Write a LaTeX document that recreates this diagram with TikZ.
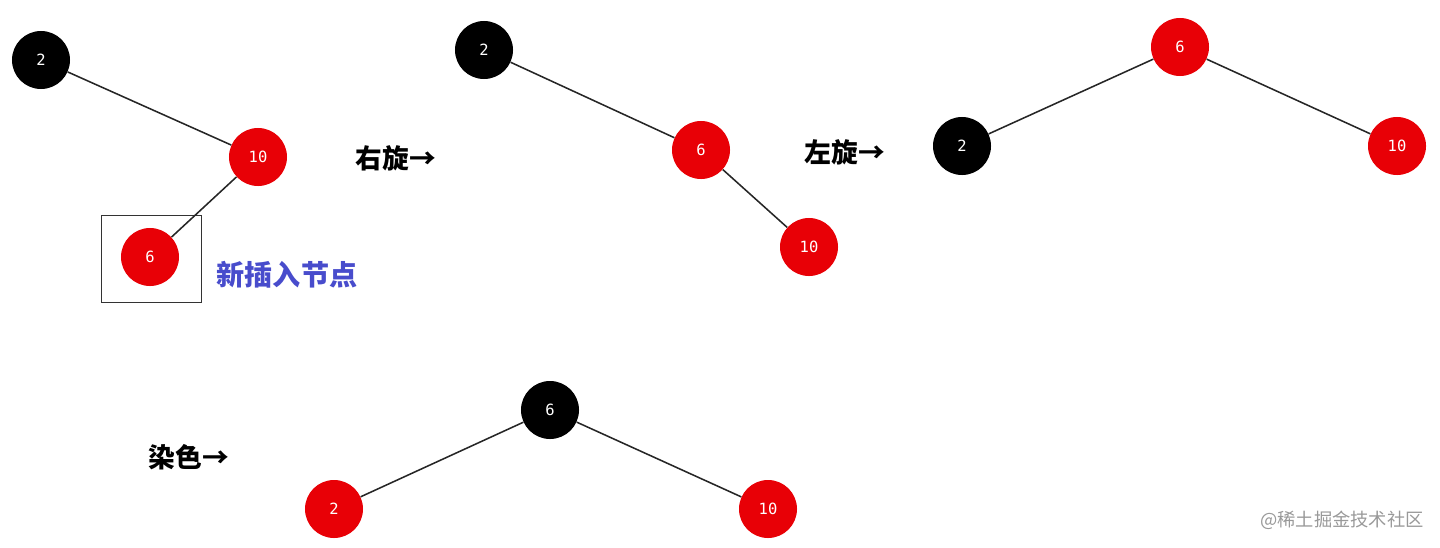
\documentclass[tikz,border=0pt]{standalone}
\usepackage{fontspec}
\usetikzlibrary{positioning}
\newfontfamily\cjk{Noto Sans CJK SC}
\newfontfamily\nummono{DejaVu Sans Mono}
\definecolor{nodered}{RGB}{232,0,6}
\definecolor{labelblue}{RGB}{72,76,204}

\begin{document}
\begin{tikzpicture}[x=0.025cm, y=-0.025cm,
    rb/.style={circle, fill=#1, text=white, minimum size=1.45cm, inner sep=0pt, font=\nummono\fontsize{11}{11}\selectfont},
    link/.style={draw=black!85, line width=1.1pt},
    opname/.style={font=\cjk\bfseries\fontsize{19}{19}\selectfont, text=black},
    newmark/.style={draw=black!80, line width=0.5pt, minimum width=2.5cm, minimum height=2.175cm, inner sep=0pt}]

    \useasboundingbox (0,0) rectangle (1440,547);

    % insert 6 under 10
    \node [rb=black] (a2) at (41,60) {2};
    \node [rb=nodered] (a10) at (258,157) {10};
    \node [rb=nodered] (a6) at (150,257) {6};
    \node [newmark] (newbox) at (151,258.5) {};
    \node [font=\cjk\bfseries\fontsize{20}{20}\selectfont, text=labelblue] (newlabel) at (287,275) {新插入节点};
    \draw [link] (a2) -- (a10);
    \draw [link] (a10) -- (a6);

    \node [opname] (rrot) at (396,158) {右旋→};

    % after right rotation
    \node [rb=black] (b2) at (484,50) {2};
    \node [rb=nodered] (b6) at (701,150) {6};
    \node [rb=nodered] (b10) at (809,247) {10};
    \draw [link] (b2) -- (b6);
    \draw [link] (b6) -- (b10);

    \node [opname] (lrot) at (845,152) {左旋→};

    % after left rotation
    \node [rb=nodered] (c6) at (1180,47) {6};
    \node [rb=black] (c2) at (962,146) {2};
    \node [rb=nodered] (c10) at (1397,146) {10};
    \draw [link] (c6) -- (c2);
    \draw [link] (c6) -- (c10);

    \node [opname] (recolor) at (189,457) {染色→};

    % after recolouring
    \node [rb=black] (d6) at (550,410) {6};
    \node [rb=nodered] (d2) at (334,509) {2};
    \node [rb=nodered] (d10) at (768,509) {10};
    \draw [link] (d6) -- (d2);
    \draw [link] (d6) -- (d10);

    \node [font=\cjk\fontsize{13}{13}\selectfont, text=black!40] (mark) at (1342,520) {@稀土掘金技术社区};
\end{tikzpicture}
\end{document}
